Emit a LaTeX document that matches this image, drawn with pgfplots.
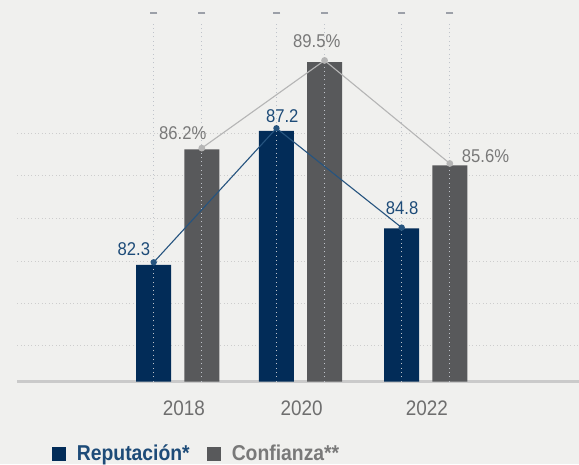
\documentclass[border=0pt]{standalone}
\usepackage{fontspec}
\setmainfont{Liberation Sans}[FakeStretch=0.9]
\usepackage{pgfplots}
\pgfplotsset{compat=1.18}

\definecolor{bgc}{HTML}{F0F0EE}
\definecolor{repbar}{HTML}{022C58}
\definecolor{confbar}{HTML}{58595B}
\definecolor{repline}{HTML}{26547F}
\definecolor{confline}{HTML}{B5B5B5}
\definecolor{replab}{HTML}{1D4B78}
\definecolor{conflab}{HTML}{797979}
\definecolor{tickc}{HTML}{6E6E6E}
\definecolor{gridc}{HTML}{CDCDCD}
\definecolor{axisc}{HTML}{CACACA}
\definecolor{vlinec}{HTML}{BFC3CA}
\definecolor{dashc}{HTML}{9CA0A8}

\begin{document}
\begin{tikzpicture}
\useasboundingbox (0,0) rectangle (579pt,464pt);
\fill[bgc] (0,0) rectangle (579pt,464pt);
\begin{axis}[
    at={(17.3pt,82.5pt)}, anchor=south west,
    scale only axis, width=561.7pt, height=368.2pt,
    xmin=-1.294, xmax=3.236,
    ymin=77.44, ymax=91.34,
    axis x line*=bottom, axis y line*=left,
    y axis line style={draw=none},
    x axis line style={draw=axisc, line width=2.3pt, -},
    xtick={0.05,1,2.01},
    xticklabels={2018,2020,2022},
    xtick style={draw=none}, ytick style={draw=none},
    xticklabel style={anchor=base, yshift=-34.2pt, text=tickc,
        font=\fontsize{21}{24}\selectfont},
    ytick={78.79,80.39,81.99,83.59,85.22,86.82},
    yticklabels={},
    ymajorgrids,
    major grid style={draw=gridc, line width=0.9pt, dash pattern=on 0.9pt off 2.6pt},
    legend columns=2,
    legend style={at={(0.0612,-0.196)}, anchor=west, draw=none, fill=none,
        inner sep=0pt, nodes={inner sep=0pt},
        font=\bfseries\fontsize{21.5}{24}\selectfont,
        /tikz/every odd column/.append style={column sep=11pt},
        /tikz/every even column/.append style={column sep=17pt}},
    legend image code/.code={\fill[#1] (0pt,-7pt) rectangle (14pt,7pt);},
]
% bars
\addplot[ybar, bar width=0.282, bar shift=-0.194, fill=repbar, draw=none]
    coordinates {(0,81.84) (0.99,86.90) (2,83.22)};
\addlegendentry{\textcolor{replab}{Reputación*}}
\addplot[ybar, bar width=0.282, bar shift=0.194, fill=confbar, draw=none]
    coordinates {(0,86.2) (0.99,89.5) (2,85.6)};
\addlegendentry{\textcolor{conflab}{Confianza**}}

% vertical dotted guides
\addplot[forget plot, vlinec, line width=1pt, dash pattern=on 1pt off 3.3pt]
    coordinates {(-0.194,77.44) (-0.194,91.05)};
\addplot[forget plot, vlinec, line width=1pt, dash pattern=on 1pt off 3.3pt]
    coordinates {(0.194,77.44) (0.194,91.05)};
\addplot[forget plot, vlinec, line width=1pt, dash pattern=on 1pt off 3.3pt]
    coordinates {(0.796,77.44) (0.796,91.05)};
\addplot[forget plot, vlinec, line width=1pt, dash pattern=on 1pt off 3.3pt]
    coordinates {(1.184,77.44) (1.184,91.05)};
\addplot[forget plot, vlinec, line width=1pt, dash pattern=on 1pt off 3.3pt]
    coordinates {(1.806,77.44) (1.806,91.05)};
\addplot[forget plot, vlinec, line width=1pt, dash pattern=on 1pt off 3.3pt]
    coordinates {(2.194,77.44) (2.194,91.05)};
\addplot[forget plot, only marks, mark=-, mark size=3.6pt,
    mark options={draw=dashc, line width=1.8pt}]
    coordinates {(-0.194,91.34) (0.194,91.34) (0.796,91.34) (1.184,91.34) (1.806,91.34) (2.194,91.34)};

% lines
\addplot[forget plot, confline, line width=1.1pt, mark=*, mark size=2.8pt,
    mark options={fill=confline, draw=none}]
    coordinates {(0.194,86.25) (1.184,89.56) (2.194,85.67)};
\addplot[forget plot, repline, line width=1.1pt, mark=*, mark size=2.6pt,
    mark options={fill=repline, draw=none}]
    coordinates {(-0.194,81.94) (0.796,87.0) (1.806,83.25)};

% value labels
\begin{scope}[font=\fontsize{18.5}{20}\selectfont, inner sep=0pt]
\node[anchor=base, text=replab] at (axis cs:-0.354,82.21) {82.3};
\node[anchor=base, text=replab] at (axis cs:0.843,87.22) {87.2};
\node[anchor=base, text=replab] at (axis cs:1.809,83.73) {84.8};
\node[anchor=base, text=conflab] at (axis cs:0.041,86.56) {86.2\%};
\node[anchor=base, text=conflab] at (axis cs:1.121,90.05) {89.5\%};
\node[anchor=base west, text=conflab] at (axis cs:2.290,85.72) {85.6\%};
\end{scope}
\end{axis}
\end{tikzpicture}
\end{document}
